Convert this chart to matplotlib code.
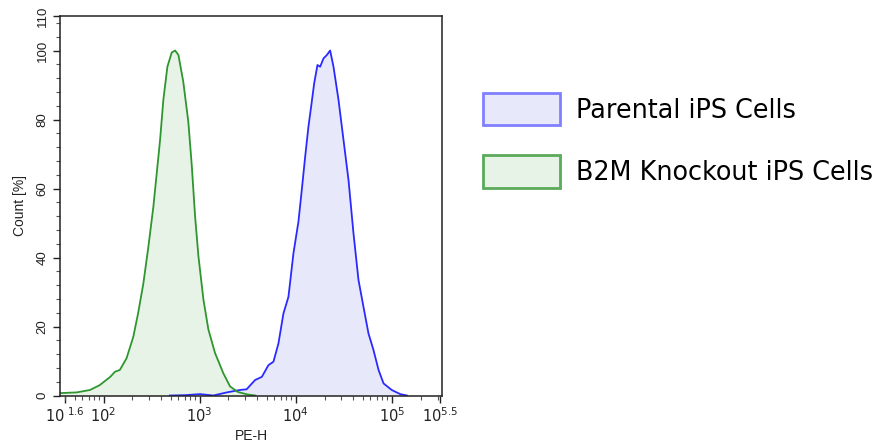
import numpy as np
import matplotlib.pyplot as plt
from matplotlib.patches import Patch
from matplotlib.ticker import FixedLocator, MultipleLocator, LogLocator, NullFormatter

plt.rcParams['font.family'] = ['Liberation Sans Narrow', 'Liberation Sans', 'DejaVu Sans']
plt.rcParams['mathtext.fontset'] = 'custom'
plt.rcParams['mathtext.rm'] = 'Liberation Sans Narrow'
plt.rcParams['mathtext.it'] = 'Liberation Sans Narrow'

# histogram outlines (PE-H as log10 exponent, count in %)
parental_log = [2.69, 2.85, 3.005, 3.144, 3.283, 3.42, 3.49, 3.578, 3.648, 3.717,
                3.769, 3.821, 3.873, 3.925, 3.977, 4.029, 4.064, 4.099, 4.133, 4.161,
                4.193, 4.227, 4.255, 4.29, 4.325, 4.359, 4.394, 4.446, 4.498, 4.55,
                4.602, 4.654, 4.706, 4.758, 4.81, 4.863, 4.915, 5.0, 5.089, 5.158]
parental_count = [0, 0.1, 0.4, 0, 0.9, 1.6, 1.8, 4.5, 5.4, 8.8,
                  9.8, 15.1, 23.8, 28.6, 41.2, 50.4, 59.6, 69.2, 77.9, 83.7,
                  90.5, 95.8, 95.3, 97.7, 98.7, 100, 95.3, 85.7, 74.1, 62.5,
                  47.0, 33.5, 25.7, 18.0, 13.2, 7.4, 3.5, 1.6, 0.4, 0]

knockout_log = [1.55, 1.72, 1.859, 1.96, 2.07, 2.12, 2.17, 2.24, 2.31, 2.36,
                2.415, 2.467, 2.519, 2.554, 2.589, 2.623, 2.665, 2.71, 2.745, 2.78,
                2.83, 2.883, 2.919, 2.953, 2.988, 3.04, 3.092, 3.161, 3.248, 3.318,
                3.40, 3.50, 3.58]
knockout_count = [0.7, 0.9, 1.6, 3.0, 5.4, 6.9, 7.4, 10.8, 17.0, 23.8,
                  32.5, 43.1, 54.7, 64.4, 74.1, 85.7, 95.3, 99.4, 100, 98.7,
                  91.0, 79.3, 66.6, 52.0, 40.4, 27.8, 19.1, 12.3, 6.4, 2.6,
                  1.0, 0.3, 0]

labels = ['Parental iPS Cells', 'B2M Knockout iPS Cells']
xtick_exp = [1.6, 2, 3, 4, 5, 5.5]
xtick_labels = [r'$10^{\ 1.6}$', r'$10^{2}$', r'$10^{3}$', r'$10^{4}$', r'$10^{5}$', r'$10^{5.5}$']
yticks = [0, 20, 40, 60, 80, 100, 110]

fig = plt.figure(figsize=(8.76, 4.46), dpi=100)
ax = fig.add_axes([0.0688, 0.1132, 0.4354, 0.8509])

px = 10 ** np.array(parental_log)
kx = 10 ** np.array(knockout_log)
ax.fill_between(px, parental_count, color='#e8e8fb', lw=0)
ax.plot(px, parental_count, color='#2a2aff', lw=1.3)
ax.fill_between(kx, knockout_count, color='#e8f3e8', lw=0)
ax.plot(kx, knockout_count, color='#2e962e', lw=1.3)

ax.set_xscale('log')
ax.set_xlim(10 ** 1.55, 10 ** 5.52)
ax.set_ylim(0, 110)
ax.xaxis.set_major_locator(FixedLocator([10 ** e for e in xtick_exp]))
ax.set_xticklabels(xtick_labels)
ax.xaxis.set_minor_locator(LogLocator(base=10, subs=np.arange(2, 10), numticks=20))
ax.xaxis.set_minor_formatter(NullFormatter())
ax.set_yticks(yticks)
ax.set_yticklabels([str(v) for v in yticks], rotation=90, va='center', fontsize=9.5)
ax.yaxis.set_minor_locator(MultipleLocator(4))

ax.tick_params(which='major', direction='out', length=5, width=1, colors='#222222')
ax.tick_params(axis='x', which='major', labelsize=10.5, pad=3)
ax.tick_params(which='minor', direction='out', length=3, width=0.8, colors='#555555')
for s in ax.spines.values():
    s.set_color('#222222')
    s.set_linewidth(1.1)

ax.set_xlabel('PE-H', fontsize=10, color='#222222', labelpad=3,
              family=['Liberation Sans', 'DejaVu Sans'])
ax.set_ylabel('Count [%]', fontsize=10, color='#222222', labelpad=7)

handles = [Patch(facecolor='#e8e8fb', edgecolor='#8080ff', lw=2),
           Patch(facecolor='#e8f3e8', edgecolor='#5aaa5a', lw=2)]
fs = 18.4
fpx = fs * 100 / 72
fig.legend(handles, labels, loc='upper left', bbox_to_anchor=(0.5514, 0.7915),
           frameon=False, borderpad=0, borderaxespad=0,
           prop={'family': 'DejaVu Sans', 'size': fs},
           handlelength=77 / fpx, handleheight=40 / fpx,
           handletextpad=16 / fpx, labelspacing=30 / fpx)

fig.savefig('out.png', dpi=100)
